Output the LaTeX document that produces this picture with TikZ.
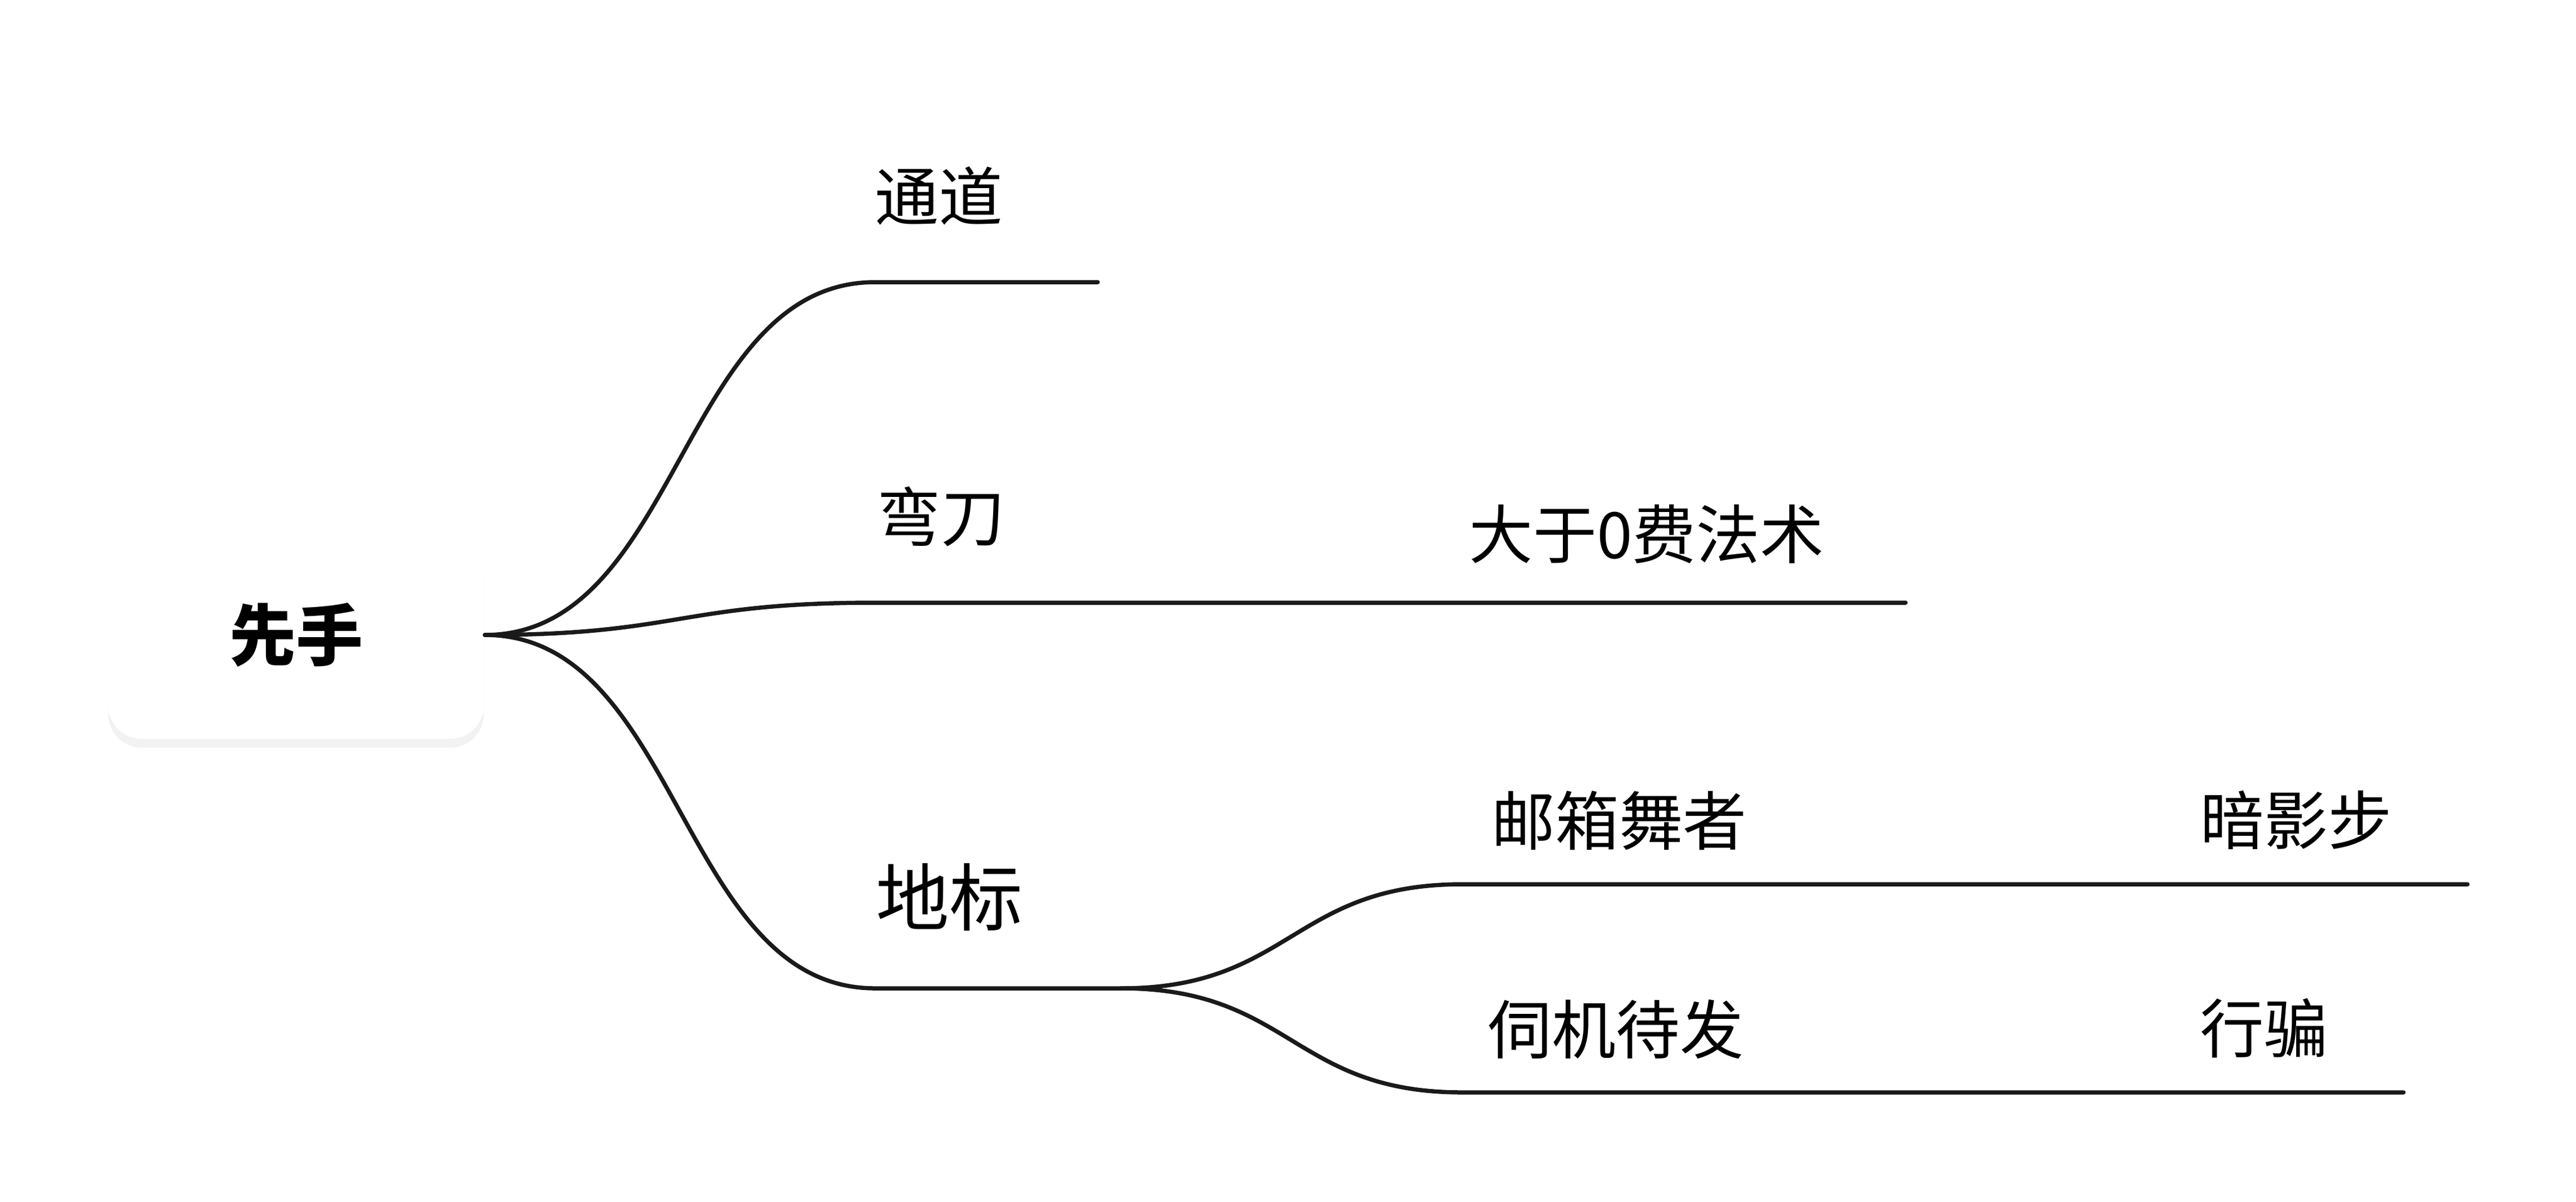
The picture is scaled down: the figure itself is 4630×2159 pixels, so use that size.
\documentclass[tikz,border=0pt]{standalone}
\usepackage{fontspec}
\setmainfont{Noto Sans CJK SC}
\usetikzlibrary{shadows}
\definecolor{mapline}{RGB}{26,26,26}

\begin{document}
\begin{tikzpicture}[x=0.1pt,y=-0.1pt,
    branch/.style={draw=mapline,line width=0.75pt,line cap=round},
    topic/.style={anchor=west,inner sep=0pt,font=\fontsize{11.5}{13}\selectfont},
    bigtopic/.style={topic,font=\fontsize{13.2}{15}\selectfont},
    rootbox/.style={rounded corners=6pt,fill=white,
        minimum width=67.5pt,minimum height=37.3pt,inner sep=0pt,
        font=\fontsize{12}{14}\selectfont\bfseries,
        drop shadow={shadow xshift=0pt,shadow yshift=-1.6pt,opacity=0.05,fill=black}}]
    \useasboundingbox (0,0) rectangle (4630,2159);
    % root
    \node[rootbox] (root) at (532,1141) {先手};
    % first level
    \coordinate (tongdaoS) at (1573,507);
    \coordinate (tongdaoE) at (1973,507);
    \node[topic] (tongdao) at (1570,352) {通道};
    \coordinate (wandaoS) at (1573,1083);
    \coordinate (wandaoE) at (1985,1083);
    \node[topic] (wandao) at (1574,928) {弯刀};
    \coordinate (dibiaoS) at (1573,1776);
    \coordinate (dibiaoE) at (2015,1776);
    \node[bigtopic] (dibiao) at (1572,1612) {地标};
    % second level
    \coordinate (fashuS) at (2600,1083);
    \coordinate (fashuE) at (3425,1083);
    \node[topic] (fashu) at (2638,960) {大于0费法术};
    \coordinate (youxiangS) at (2628,1589);
    \coordinate (youxiangE) at (3292,1589);
    \node[topic] (youxiang) at (2678,1475) {邮箱舞者};
    \coordinate (siji) at (2628,1963);
    \coordinate (sijiE) at (3285,1963);
    \node[topic] (sijitext) at (2672,1850) {伺机待发};
    % third level
    \coordinate (anyingS) at (3950,1589);
    \coordinate (anyingE) at (4435,1589);
    \node[topic] (anying) at (3952,1474) {暗影步};
    \coordinate (xingpianS) at (3950,1963);
    \coordinate (xingpianE) at (4320,1963);
    \node[topic] (xingpian) at (3952,1848) {行骗};
    % branches
    \draw[branch] (root.east) .. controls +(350,0) and +(-350,0) .. (tongdaoS) -- (tongdaoE);
    \draw[branch] (root.east) .. controls +(350,0) and +(-350,0) .. (wandaoS) -- (wandaoE)
        -- (fashuS) -- (fashuE);
    \draw[branch] (root.east) .. controls +(350,0) and +(-350,0) .. (dibiaoS) -- (dibiaoE);
    \draw[branch] (dibiaoE) .. controls +(304,0) and +(-304,0) .. (youxiangS) -- (youxiangE)
        -- (anyingS) -- (anyingE);
    \draw[branch] (dibiaoE) .. controls +(304,0) and +(-304,0) .. (siji) -- (sijiE)
        -- (xingpianS) -- (xingpianE);
\end{tikzpicture}
\end{document}
